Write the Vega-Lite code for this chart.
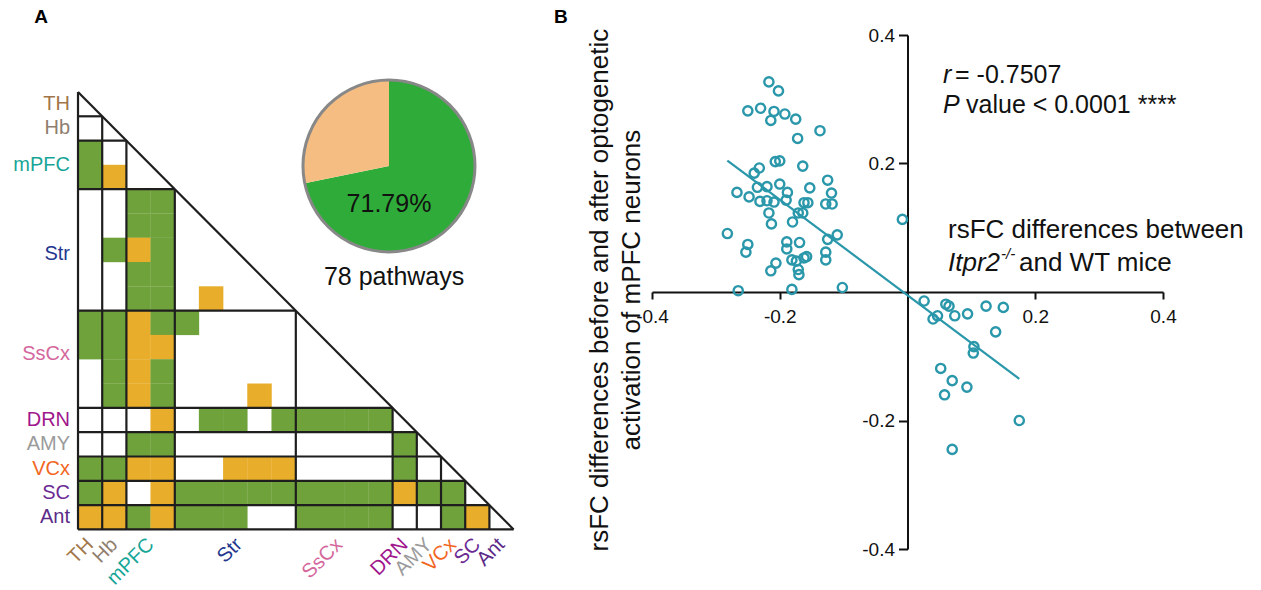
{
  "$schema": "https://vega.github.io/schema/vega-lite/v6.json",
  "background": "white",
  "padding": 5,
  "config": {"view": {"stroke": null}, "font": "Liberation Sans"},
  "datasets": {
    "cells": [
      {"row":2,"col":0,"type":"G"},
      {"row":3,"col":0,"type":"G"},{"row":3,"col":1,"type":"O"},
      {"row":4,"col":2,"type":"G"},{"row":4,"col":3,"type":"G"},
      {"row":5,"col":2,"type":"G"},{"row":5,"col":3,"type":"G"},
      {"row":6,"col":1,"type":"G"},{"row":6,"col":2,"type":"O"},{"row":6,"col":3,"type":"G"},
      {"row":7,"col":2,"type":"G"},{"row":7,"col":3,"type":"G"},
      {"row":8,"col":2,"type":"G"},{"row":8,"col":3,"type":"G"},{"row":8,"col":5,"type":"O"},
      {"row":9,"col":0,"type":"G"},{"row":9,"col":1,"type":"G"},{"row":9,"col":2,"type":"O"},{"row":9,"col":3,"type":"G"},{"row":9,"col":4,"type":"G"},
      {"row":10,"col":0,"type":"G"},{"row":10,"col":1,"type":"G"},{"row":10,"col":2,"type":"O"},{"row":10,"col":3,"type":"O"},
      {"row":11,"col":1,"type":"G"},{"row":11,"col":2,"type":"O"},{"row":11,"col":3,"type":"G"},
      {"row":12,"col":1,"type":"G"},{"row":12,"col":2,"type":"O"},{"row":12,"col":3,"type":"G"},{"row":12,"col":7,"type":"O"},
      {"row":13,"col":3,"type":"O"},{"row":13,"col":5,"type":"G"},{"row":13,"col":6,"type":"G"},{"row":13,"col":8,"type":"G"},{"row":13,"col":9,"type":"G"},{"row":13,"col":10,"type":"G"},{"row":13,"col":11,"type":"G"},{"row":13,"col":12,"type":"G"},
      {"row":14,"col":2,"type":"G"},{"row":14,"col":3,"type":"G"},{"row":14,"col":13,"type":"G"},
      {"row":15,"col":0,"type":"G"},{"row":15,"col":1,"type":"G"},{"row":15,"col":2,"type":"O"},{"row":15,"col":3,"type":"O"},{"row":15,"col":6,"type":"O"},{"row":15,"col":7,"type":"O"},{"row":15,"col":8,"type":"O"},{"row":15,"col":13,"type":"G"},
      {"row":16,"col":0,"type":"G"},{"row":16,"col":1,"type":"O"},{"row":16,"col":3,"type":"O"},{"row":16,"col":4,"type":"G"},{"row":16,"col":5,"type":"G"},{"row":16,"col":6,"type":"G"},{"row":16,"col":7,"type":"G"},{"row":16,"col":8,"type":"G"},{"row":16,"col":9,"type":"G"},{"row":16,"col":10,"type":"G"},{"row":16,"col":11,"type":"G"},{"row":16,"col":12,"type":"G"},{"row":16,"col":13,"type":"O"},{"row":16,"col":14,"type":"G"},{"row":16,"col":15,"type":"G"},
      {"row":17,"col":0,"type":"O"},{"row":17,"col":1,"type":"O"},{"row":17,"col":2,"type":"G"},{"row":17,"col":3,"type":"O"},{"row":17,"col":4,"type":"G"},{"row":17,"col":5,"type":"G"},{"row":17,"col":6,"type":"G"},{"row":17,"col":9,"type":"G"},{"row":17,"col":10,"type":"G"},{"row":17,"col":11,"type":"G"},{"row":17,"col":12,"type":"G"},{"row":17,"col":15,"type":"G"},{"row":17,"col":16,"type":"O"}
    ],
    "blocks": [
      {"region":"TH","mid":0},
      {"region":"Hb","mid":1},
      {"region":"mPFC","mid":2.5},
      {"region":"Str","mid":6.15},
      {"region":"SsCx","mid":10.3},
      {"region":"DRN","mid":13},
      {"region":"AMY","mid":14},
      {"region":"VCx","mid":15},
      {"region":"SC","mid":16},
      {"region":"Ant","mid":17}
    ],
    "borders": [
      {"x1":-0.5,"y1":-0.5,"x2":-0.5,"y2":17.5},
      {"x1":-0.5,"y1":-0.5,"x2":17.5,"y2":17.5},
      {"x1":-0.5,"y1":0.5,"x2":0.5,"y2":0.5},{"x1":0.5,"y1":0.5,"x2":0.5,"y2":17.5},
      {"x1":-0.5,"y1":1.5,"x2":1.5,"y2":1.5},{"x1":1.5,"y1":1.5,"x2":1.5,"y2":17.5},
      {"x1":-0.5,"y1":3.5,"x2":3.5,"y2":3.5},{"x1":3.5,"y1":3.5,"x2":3.5,"y2":17.5},
      {"x1":-0.5,"y1":8.5,"x2":8.5,"y2":8.5},{"x1":8.5,"y1":8.5,"x2":8.5,"y2":17.5},
      {"x1":-0.5,"y1":12.5,"x2":12.5,"y2":12.5},{"x1":12.5,"y1":12.5,"x2":12.5,"y2":17.5},
      {"x1":-0.5,"y1":13.5,"x2":13.5,"y2":13.5},{"x1":13.5,"y1":13.5,"x2":13.5,"y2":17.5},
      {"x1":-0.5,"y1":14.5,"x2":14.5,"y2":14.5},{"x1":14.5,"y1":14.5,"x2":14.5,"y2":17.5},
      {"x1":-0.5,"y1":15.5,"x2":15.5,"y2":15.5},{"x1":15.5,"y1":15.5,"x2":15.5,"y2":17.5},
      {"x1":-0.5,"y1":16.5,"x2":16.5,"y2":16.5},{"x1":16.5,"y1":16.5,"x2":16.5,"y2":17.5},
      {"x1":-0.5,"y1":17.5,"x2":17.5,"y2":17.5}
    ],
    "pie": [
      {"group":"green","count":56},
      {"group":"orange","count":22}
    ],
    "scatter": [
      {"x":-0.217,"y":0.327},{"x":-0.202,"y":0.313},{"x":-0.250,"y":0.282},{"x":-0.230,"y":0.286},
      {"x":-0.209,"y":0.281},{"x":-0.214,"y":0.267},{"x":-0.192,"y":0.277},{"x":-0.175,"y":0.269},
      {"x":-0.137,"y":0.251},{"x":-0.172,"y":0.239},{"x":-0.207,"y":0.203},{"x":-0.200,"y":0.204},
      {"x":-0.164,"y":0.196},{"x":-0.232,"y":0.193},{"x":-0.240,"y":0.185},{"x":-0.267,"y":0.155},
      {"x":-0.235,"y":0.163},{"x":-0.220,"y":0.164},{"x":-0.200,"y":0.168},{"x":-0.188,"y":0.155},
      {"x":-0.153,"y":0.162},{"x":-0.125,"y":0.174},{"x":-0.119,"y":0.154},{"x":-0.248,"y":0.148},
      {"x":-0.231,"y":0.141},{"x":-0.220,"y":0.142},{"x":-0.209,"y":0.140},{"x":-0.190,"y":0.143},
      {"x":-0.162,"y":0.139},{"x":-0.156,"y":0.139},{"x":-0.128,"y":0.137},{"x":-0.118,"y":0.137},
      {"x":-0.217,"y":0.123},{"x":-0.171,"y":0.123},{"x":-0.164,"y":0.123},{"x":-0.213,"y":0.106},
      {"x":-0.180,"y":0.109},{"x":-0.282,"y":0.091},{"x":-0.125,"y":0.082},{"x":-0.110,"y":0.089},
      {"x":-0.250,"y":0.074},{"x":-0.253,"y":0.062},{"x":-0.189,"y":0.078},{"x":-0.169,"y":0.077},
      {"x":-0.189,"y":0.067},{"x":-0.128,"y":0.062},{"x":-0.128,"y":0.050},{"x":-0.181,"y":0.050},
      {"x":-0.174,"y":0.048},{"x":-0.162,"y":0.053},{"x":-0.158,"y":0.055},{"x":-0.206,"y":0.045},
      {"x":-0.214,"y":0.033},{"x":-0.171,"y":0.035},{"x":-0.170,"y":0.027},{"x":-0.265,"y":0.002},
      {"x":-0.181,"y":0.004},{"x":-0.102,"y":0.007},{"x":-0.008,"y":0.113},
      {"x":0.026,"y":-0.014},{"x":0.060,"y":-0.019},{"x":0.065,"y":-0.022},{"x":0.047,"y":-0.037},
      {"x":0.040,"y":-0.042},{"x":0.074,"y":-0.037},{"x":0.094,"y":-0.034},{"x":0.123,"y":-0.022},
      {"x":0.150,"y":-0.024},{"x":0.138,"y":-0.062},{"x":0.104,"y":-0.085},{"x":0.103,"y":-0.095},
      {"x":0.052,"y":-0.119},{"x":0.070,"y":-0.138},{"x":0.093,"y":-0.148},{"x":0.058,"y":-0.160},
      {"x":0.175,"y":-0.200},{"x":0.070,"y":-0.245}
    ]
  },
  "spacing": 107,
  "bounds": "flush",
  "center": true,
  "hconcat": [
    {
      "width": 540,
      "height": 574,
      "resolve": {"scale": {"color": "independent"}},
      "layer": [
        {
          "data": {"name": "cells"},
          "mark": {"type": "point", "shape": "square", "filled": true, "size": 600, "opacity": 1, "strokeWidth": 0},
          "encoding": {
            "x": {"field": "col", "type": "quantitative", "scale": {"domain": [-3.517, 18.797], "nice": false, "zero": false}, "axis": null},
            "y": {"field": "row", "type": "quantitative", "scale": {"domain": [-4.08, 19.541], "nice": false, "zero": false, "reverse": true}, "axis": null},
            "color": {"field": "type", "type": "nominal", "scale": {"domain": ["G", "O"], "range": ["#70a23c", "#e8ad2a"]}, "legend": null}
          }
        },
        {
          "data": {"name": "borders"},
          "mark": {"type": "rule", "strokeWidth": 2.2, "color": "#1e1e1e"},
          "encoding": {
            "x": {"field": "x1", "type": "quantitative", "scale": {"domain": [-3.517, 18.797], "nice": false, "zero": false}, "axis": null},
            "y": {"field": "y1", "type": "quantitative", "scale": {"domain": [-4.08, 19.541], "nice": false, "zero": false, "reverse": true}, "axis": null},
            "x2": {"field": "x2"},
            "y2": {"field": "y2"}
          }
        },
        {
          "data": {"name": "blocks"},
          "mark": {"type": "text", "align": "right", "baseline": "middle", "fontSize": 20, "font": "Liberation Sans"},
          "encoding": {
            "x": {"datum": -0.83, "type": "quantitative", "scale": {"domain": [-3.517, 18.797], "nice": false, "zero": false}, "axis": null},
            "y": {"field": "mid", "type": "quantitative", "scale": {"domain": [-4.08, 19.541], "nice": false, "zero": false, "reverse": true}, "axis": null},
            "text": {"field": "region", "type": "nominal"},
            "color": {"field": "region", "type": "nominal", "scale": {"domain": ["TH","Hb","mPFC","Str","SsCx","DRN","AMY","VCx","SC","Ant"], "range": ["#a27548","#8f7e6e","#17a597","#24378f","#d4689d","#a0168c","#9b9b9b","#f2661f","#6b2b93","#5c2a88"]}, "legend": null}
          }
        },
        {
          "data": {"name": "blocks"},
          "mark": {"type": "text", "align": "right", "baseline": "middle", "angle": 315, "fontSize": 20, "font": "Liberation Sans"},
          "encoding": {
            "x": {"field": "mid", "type": "quantitative", "scale": {"domain": [-3.517, 18.797], "nice": false, "zero": false}, "axis": null},
            "y": {"datum": 18.0, "type": "quantitative", "scale": {"domain": [-4.08, 19.541], "nice": false, "zero": false, "reverse": true}, "axis": null},
            "text": {"field": "region", "type": "nominal"},
            "color": {"field": "region", "type": "nominal", "scale": {"domain": ["TH","Hb","mPFC","Str","SsCx","DRN","AMY","VCx","SC","Ant"], "range": ["#a27548","#8f7e6e","#17a597","#24378f","#d4689d","#a0168c","#9b9b9b","#f2661f","#6b2b93","#5c2a88"]}, "legend": null}
          }
        },
        {
          "data": {"name": "pie"},
          "transform": [{"stack": "count", "groupby": [], "sort": [{"field": "count", "order": "descending"}], "as": ["c0", "c1"]}],
          "mark": {"type": "arc", "radius": 86},
          "encoding": {
            "theta": {"field": "c0", "type": "quantitative", "stack": null, "scale": {"domain": [0, 78], "zero": true}},
            "theta2": {"field": "c1"},
            "x": {"datum": 12.35, "type": "quantitative", "stack": null, "scale": {"domain": [-3.517, 18.797], "nice": false, "zero": false}, "axis": null},
            "y": {"datum": 2.545, "type": "quantitative", "stack": null, "scale": {"domain": [-4.08, 19.541], "nice": false, "zero": false, "reverse": true}, "axis": null},
            "color": {"field": "group", "type": "nominal", "scale": {"domain": ["green", "orange"], "range": ["#2fab39", "#f6bd83"]}, "legend": null}
          }
        },
        {
          "data": {"values": [{}]},
          "mark": {"type": "point", "shape": "circle", "filled": false, "size": 29584, "stroke": "#888888", "strokeWidth": 3, "opacity": 1},
          "encoding": {
            "x": {"datum": 12.35, "type": "quantitative", "scale": {"domain": [-3.517, 18.797], "nice": false, "zero": false}, "axis": null},
            "y": {"datum": 2.545, "type": "quantitative", "scale": {"domain": [-4.08, 19.541], "nice": false, "zero": false, "reverse": true}, "axis": null}
          }
        },
        {
          "data": {"values": [{}]},
          "mark": {"type": "text", "text": "71.79%", "fontSize": 25, "align": "center", "baseline": "middle", "color": "#111", "font": "Liberation Sans"},
          "encoding": {
            "x": {"datum": 12.35, "type": "quantitative", "scale": {"domain": [-3.517, 18.797], "nice": false, "zero": false}, "axis": null},
            "y": {"datum": 4.11, "type": "quantitative", "scale": {"domain": [-4.08, 19.541], "nice": false, "zero": false, "reverse": true}, "axis": null}
          }
        },
        {
          "data": {"values": [{}]},
          "mark": {"type": "text", "text": "78 pathways", "fontSize": 25, "align": "center", "baseline": "middle", "color": "#111", "font": "Liberation Sans"},
          "encoding": {
            "x": {"datum": 12.56, "type": "quantitative", "scale": {"domain": [-3.517, 18.797], "nice": false, "zero": false}, "axis": null},
            "y": {"datum": 7.11, "type": "quantitative", "scale": {"domain": [-4.08, 19.541], "nice": false, "zero": false, "reverse": true}, "axis": null}
          }
        },
        {
          "data": {"values": [{}]},
          "mark": {"type": "text", "text": "A", "fontSize": 19, "fontWeight": "bold", "align": "center", "baseline": "middle", "color": "#000", "font": "Liberation Sans"},
          "encoding": {
            "x": {"datum": -2.03, "type": "quantitative", "scale": {"domain": [-3.517, 18.797], "nice": false, "zero": false}, "axis": null},
            "y": {"datum": -3.586, "type": "quantitative", "scale": {"domain": [-4.08, 19.541], "nice": false, "zero": false, "reverse": true}, "axis": null}
          }
        }
      ]
    },
    {
      "width": 511,
      "height": 514,
      "encoding": {
        "x": {"type": "quantitative", "scale": {"domain": [-0.4, 0.4], "nice": false, "zero": false},
          "axis": {"orient": "bottom", "offset": -257, "values": [-0.4, -0.2, 0.2, 0.4], "title": null, "grid": false, "domainColor": "#111", "domainWidth": 2, "tickColor": "#111", "tickWidth": 2, "tickSize": 7, "labelFontSize": 19, "labelColor": "#111", "labelPadding": 8, "labelFont": "Liberation Sans", "labelFlush": false, "labelOverlap": false, "labelExpr": "replace(datum.label, '\u2212', '-')"}},
        "y": {"type": "quantitative", "scale": {"domain": [-0.4, 0.4], "nice": false, "zero": false},
          "axis": {"orient": "left", "offset": -255.5, "values": [-0.4, -0.2, 0.2, 0.4], "title": null, "grid": false, "domainColor": "#111", "domainWidth": 2, "tickColor": "#111", "tickWidth": 2, "tickSize": 9, "labelFontSize": 19, "labelColor": "#111", "labelPadding": 4, "labelFont": "Liberation Sans", "labelOverlap": false, "labelExpr": "replace(datum.label, '\u2212', '-')"}}
      },
      "layer": [
        {
          "data": {"name": "scatter"},
          "mark": {"type": "point", "shape": "circle", "filled": false, "size": 85, "strokeWidth": 2.4, "color": "#2a97aa", "opacity": 1},
          "encoding": {
            "x": {"field": "x"},
            "y": {"field": "y"}
          }
        },
        {
          "data": {"name": "scatter"},
          "transform": [{"regression": "y", "on": "x"}],
          "mark": {"type": "line", "color": "#2a97aa", "strokeWidth": 2.2},
          "encoding": {
            "x": {"field": "x"},
            "y": {"field": "y"}
          }
        },
        {
          "data": {"values": [{}]},
          "mark": {"type": "text", "text": "r", "fontStyle": "italic", "fontSize": 25, "align": "left", "baseline": "middle", "color": "#111", "font": "Liberation Sans"},
          "encoding": {"x": {"datum": 0.0556}, "y": {"datum": 0.3377}}
        },
        {
          "data": {"values": [{}]},
          "mark": {"type": "text", "text": "= -0.7507", "dx": 12, "fontSize": 25, "align": "left", "baseline": "middle", "color": "#111", "font": "Liberation Sans"},
          "encoding": {"x": {"datum": 0.0556}, "y": {"datum": 0.3377}}
        },
        {
          "data": {"values": [{}]},
          "mark": {"type": "text", "text": "P", "fontStyle": "italic", "fontSize": 25, "align": "left", "baseline": "middle", "color": "#111", "font": "Liberation Sans"},
          "encoding": {"x": {"datum": 0.0556}, "y": {"datum": 0.291}}
        },
        {
          "data": {"values": [{}]},
          "mark": {"type": "text", "text": "value < 0.0001 ****", "dx": 23, "fontSize": 25, "align": "left", "baseline": "middle", "color": "#111", "font": "Liberation Sans"},
          "encoding": {"x": {"datum": 0.0556}, "y": {"datum": 0.291}}
        },
        {
          "data": {"values": [{}]},
          "mark": {"type": "text", "text": "rsFC differences between", "fontSize": 26, "align": "left", "baseline": "middle", "color": "#111", "font": "Liberation Sans"},
          "encoding": {"x": {"datum": 0.0634}, "y": {"datum": 0.0965}}
        },
        {
          "data": {"values": [{}]},
          "mark": {"type": "text", "text": "Itpr2", "fontStyle": "italic", "fontSize": 26, "align": "left", "baseline": "middle", "color": "#111", "font": "Liberation Sans"},
          "encoding": {"x": {"datum": 0.0634}, "y": {"datum": 0.0451}}
        },
        {
          "data": {"values": [{}]},
          "mark": {"type": "text", "text": "-/-", "dx": 53, "dy": -9, "fontStyle": "italic", "fontSize": 15, "align": "left", "baseline": "middle", "color": "#111", "font": "Liberation Sans"},
          "encoding": {"x": {"datum": 0.0634}, "y": {"datum": 0.0451}}
        },
        {
          "data": {"values": [{}]},
          "mark": {"type": "text", "text": "and WT mice", "dx": 71, "fontSize": 26, "align": "left", "baseline": "middle", "color": "#111", "font": "Liberation Sans"},
          "encoding": {"x": {"datum": 0.0634}, "y": {"datum": 0.0451}}
        },
        {
          "data": {"values": [{}]},
          "mark": {"type": "text", "text": "rsFC differences before and after optogenetic", "angle": 270, "fontSize": 26, "align": "center", "baseline": "middle", "color": "#111", "font": "Liberation Sans"},
          "encoding": {"x": {"datum": -0.4814}, "y": {"datum": 0.003}}
        },
        {
          "data": {"values": [{}]},
          "mark": {"type": "text", "text": "activation of mPFC neurons", "angle": 270, "fontSize": 26, "align": "center", "baseline": "middle", "color": "#111", "font": "Liberation Sans"},
          "encoding": {"x": {"datum": -0.4313}, "y": {"datum": 0.003}}
        },
        {
          "data": {"values": [{}]},
          "mark": {"type": "text", "text": "B", "fontSize": 19, "fontWeight": "bold", "align": "center", "baseline": "middle", "color": "#000", "font": "Liberation Sans"},
          "encoding": {"x": {"datum": -0.5425}, "y": {"datum": 0.428}}
        }
      ]
    }
  ]
}
